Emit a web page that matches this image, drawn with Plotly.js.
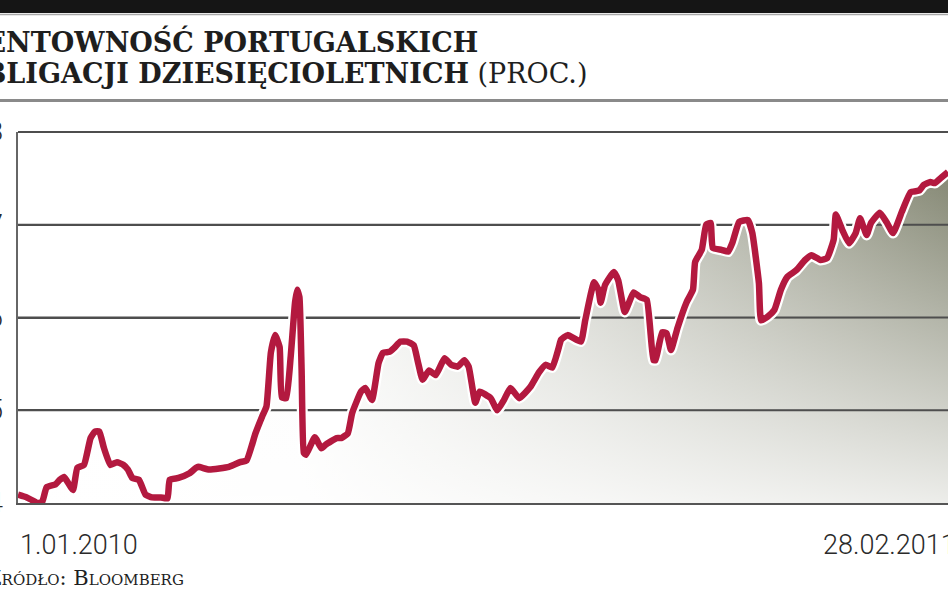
<!DOCTYPE html>
<html>
<head>
<meta charset="utf-8">
<script src="https://cdn.plot.ly/plotly-3.0.1.min.js"></script>
<style>
html,body{margin:0;padding:0;background:#fff;overflow:hidden;}
#chart{width:948px;height:593px;}
</style>
</head>
<body>
<div id="chart"></div>
<script>
// ---- data ----
var dates = [
"2010-01-01","2010-01-05","2010-01-10","2010-01-12","2010-01-14","2010-01-18","2010-01-20","2010-01-22","2010-01-26","2010-01-28",
"2010-01-31","2010-02-03","2010-02-05","2010-02-07","2010-02-09","2010-02-12","2010-02-15","2010-02-18","2010-02-20","2010-02-22",
"2010-02-25","2010-02-28","2010-03-03","2010-03-07","2010-03-10","2010-03-11","2010-03-15","2010-03-20","2010-03-23","2010-03-24",
"2010-03-29","2010-04-07","2010-04-12","2010-04-15","2010-04-19","2010-04-22","2010-04-24","2010-04-26","2010-04-28","2010-04-30",
"2010-05-01","2010-05-03","2010-05-05","2010-05-07","2010-05-08","2010-05-09","2010-05-10","2010-05-11","2010-05-12","2010-05-16",
"2010-05-19","2010-05-21","2010-05-26","2010-05-28","2010-05-31","2010-06-02","2010-06-06","2010-06-08","2010-06-11","2010-06-14",
"2010-06-16","2010-06-19","2010-06-21","2010-06-24","2010-06-27","2010-06-30","2010-07-02","2010-07-04","2010-07-07","2010-07-10",
"2010-07-14","2010-07-17","2010-07-20","2010-07-23","2010-07-25","2010-07-28","2010-07-30","2010-08-04","2010-08-07","2010-08-10",
"2010-08-13","2010-08-17","2010-08-22","2010-08-26","2010-08-29","2010-09-01","2010-09-04","2010-09-05","2010-09-08","2010-09-14",
"2010-09-16","2010-09-20","2010-09-22","2010-09-23","2010-09-25","2010-09-29","2010-10-01","2010-10-04","2010-10-08","2010-10-11",
"2010-10-14","2010-10-17","2010-10-18","2010-10-21","2010-10-23","2010-10-25","2010-10-28","2010-11-01","2010-11-04","2010-11-05",
"2010-11-08","2010-11-10","2010-11-12","2010-11-13","2010-11-17","2010-11-20","2010-11-22","2010-11-25","2010-11-29","2010-12-01",
"2010-12-04","2010-12-05","2010-12-08","2010-12-11","2010-12-14","2010-12-17","2010-12-21","2010-12-25","2010-12-28","2011-01-01",
"2011-01-04","2011-01-07","2011-01-08","2011-01-11","2011-01-14","2011-01-17","2011-01-19","2011-01-22","2011-01-24","2011-01-28",
"2011-01-31","2011-02-03","2011-02-07","2011-02-11","2011-02-15","2011-02-17","2011-02-20","2011-02-22","2011-02-25","2011-02-28"
];
var yields = [
4.09,4.06,4.00,4.01,4.17,4.20,4.25,4.28,4.14,4.38,
4.41,4.70,4.77,4.77,4.60,4.41,4.44,4.41,4.36,4.27,
4.25,4.09,4.06,4.06,4.05,4.25,4.27,4.32,4.38,4.39,
4.36,4.39,4.44,4.46,4.75,4.93,5.04,5.62,5.81,5.68,
5.14,5.13,5.57,6.16,6.30,6.22,5.43,4.54,4.52,4.71,
4.59,4.63,4.70,4.70,4.75,4.97,5.20,5.24,5.11,5.51,
5.62,5.63,5.67,5.74,5.74,5.70,5.51,5.33,5.43,5.38,
5.56,5.49,5.47,5.54,5.47,5.08,5.20,5.13,5.00,5.11,
5.24,5.13,5.25,5.41,5.49,5.46,5.68,5.76,5.81,5.74,
5.97,6.38,6.30,6.16,6.35,6.49,6.40,6.06,6.27,6.22,
6.19,5.54,5.54,5.84,5.83,5.65,5.89,6.16,6.30,6.60,
6.73,7.00,7.02,6.75,6.73,6.71,6.81,7.03,7.05,6.91,
6.37,5.97,6.01,6.08,6.30,6.44,6.51,6.62,6.67,6.62,
6.64,6.84,7.11,6.94,6.80,6.91,7.07,6.89,7.02,7.13,
7.03,6.91,7.14,7.35,7.37,7.43,7.46,7.45,7.51,7.57
];
var yTickVals = [4,5,6,7,8];
var yTickText = ["4","5","6","7","8"];
var xLabels = ["1.01.2010","28.02.2011"];
var titleLine1 = "RENTOWNOŚĆ PORTUGALSKICH";
var titleLine2 = "OBLIGACJI DZIESIĘCIOLETNICH";
var titleUnit = "(PROC.)";
var sourceText = "Źródło: Bloomberg";

// ---- geometry helpers (pixel -> paper) ----
var W = 948, H = 593, ML = 18, MR = 0, MT = 132, MB = 90;
var PW = W - ML - MR, PH = H - MT - MB;
function pxX(p){ return (p - ML) / PW; }
function pxY(p){ return (H - MB - p) / PH; }

var firstDate = dates[0], lastDate = dates[dates.length - 1];
var gx = [], gy = [];
yTickVals.slice(1, yTickVals.length - 1).forEach(function(v){
  gx.push(firstDate, lastDate, null); gy.push(v, v, null);
});

var fillColor = "132,135,115";
var traces = [
  { x: dates, y: yields, type: "scatter", mode: "none", fill: "tozeroy",
    fillgradient: { type: "horizontal",
      colorscale: [[0,"rgba("+fillColor+",0)"],[0.3,"rgba("+fillColor+",0.03)"],[0.6,"rgba("+fillColor+",0.4)"],[1,"rgba("+fillColor+",1)"]] },
    hoverinfo: "skip", showlegend: false },
  { x: dates, y: yields, type: "scatter", mode: "none", fill: "tozeroy",
    fillgradient: { type: "vertical", start: 4, stop: 7.6,
      colorscale: [[0,"rgba(255,255,255,0.85)"],[1,"rgba(255,255,255,0)"]] },
    hoverinfo: "skip", showlegend: false },
  { x: gx, y: gy, type: "scatter", mode: "lines", line: { color: "#4e4e4e", width: 2 },
    hoverinfo: "skip", showlegend: false },
  { x: dates, y: yields, type: "scatter", mode: "lines",
    line: { color: "#ffffff", width: 11, shape: "spline", smoothing: 0.4 },
    hoverinfo: "skip", showlegend: false },
  { x: dates, y: yields, type: "scatter", mode: "lines",
    line: { color: "#b3193f", width: 6.5, shape: "spline", smoothing: 0.4 },
    showlegend: false }
];

var labelFont = { family: "Roboto, DejaVu Sans Condensed, sans-serif", size: 27, color: "#2a2a2a", weight: 300 };
var serifFont = { family: "DejaVu Serif, Liberation Serif, serif", size: 27, color: "#1e1e1e" };

var annotations = [
  { xref: "paper", yref: "paper", x: pxX(480), y: pxY(41), xanchor: "right", yanchor: "middle",
    text: "<b>" + titleLine1 + "</b>", showarrow: false, font: serifFont },
  { xref: "paper", yref: "paper", x: pxX(589), y: pxY(74), xanchor: "right", yanchor: "middle",
    text: "<b>" + titleLine2 + "</b> " + titleUnit, showarrow: false, font: serifFont },
  { xref: "x", yref: "paper", x: firstDate, y: 0, yshift: -42, xanchor: "left", yanchor: "middle",
    text: xLabels[0], showarrow: false, font: labelFont },
  { xref: "x", yref: "paper", x: lastDate, y: 0, yshift: -42, xshift: 10, xanchor: "right", yanchor: "middle",
    text: xLabels[1], showarrow: false, font: labelFont },
  { xref: "paper", yref: "paper", x: pxX(186), y: pxY(578), xanchor: "right", yanchor: "middle",
    text: sourceText, showarrow: false,
    font: { family: "DejaVu Serif, Liberation Serif, serif", size: 21, color: "#1e1e1e", variant: "small-caps" } }
];
yTickVals.forEach(function(v, i){
  annotations.push({ xref: "paper", yref: "y", x: pxX(5), y: v, xanchor: "right", yanchor: "middle",
    text: yTickText[i], showarrow: false, font: labelFont });
});

var layout = {
  width: W, height: H,
  margin: { l: ML, r: MR, t: MT, b: MB, pad: 0 },
  paper_bgcolor: "#ffffff", plot_bgcolor: "#ffffff",
  showlegend: false,
  xaxis: { type: "date", range: [firstDate, lastDate], showgrid: false, zeroline: false,
    showline: true, linecolor: "#555555", linewidth: 2, showticklabels: false, ticks: "", fixedrange: true },
  yaxis: { range: [yTickVals[0], yTickVals[yTickVals.length-1]], tickvals: yTickVals,
    showgrid: true, gridcolor: "#4e4e4e", gridwidth: 2, zeroline: false,
    showline: true, linecolor: "#666666", linewidth: 2, ticks: "", showticklabels: false, fixedrange: true },
  shapes: [
    { type: "rect", xref: "paper", yref: "paper", x0: pxX(-5), x1: pxX(W + 5), y0: pxY(13), y1: pxY(-5),
      fillcolor: "#151515", line: { width: 0 } },
    { type: "line", xref: "paper", yref: "paper", x0: pxX(-5), x1: pxX(W + 5), y0: pxY(14.5), y1: pxY(14.5),
      line: { color: "#a8a8a8", width: 1.5 } },
    { type: "line", xref: "paper", yref: "paper", x0: pxX(-5), x1: pxX(W + 5), y0: pxY(100.5), y1: pxY(100.5),
      line: { color: "#8a8a8a", width: 3 } },
    { type: "line", xref: "x", yref: "paper", x0: firstDate, x1: lastDate, y0: 1, y1: 1,
      line: { color: "#4e4e4e", width: 2 }, layer: "below" }
  ],
  annotations: annotations
};

Plotly.newPlot("chart", traces, layout, { displayModeBar: false, staticPlot: true });
</script>
</body>
</html>
